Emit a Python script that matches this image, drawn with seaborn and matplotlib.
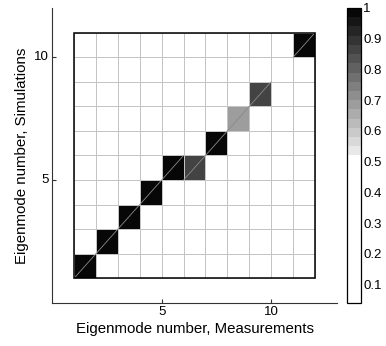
import numpy as np
import pandas as pd
import matplotlib
matplotlib.use("Agg")
import matplotlib.pyplot as plt
from matplotlib.colors import ListedColormap
from matplotlib.patches import Rectangle
import seaborn as sns

# MAC matrix: rows = simulation modes 1..10, columns = measured modes 1..11
measurements = list(range(1, 12))
simulations = list(range(1, 11))
mac_values = [
    # col:1    2     3     4     5     6     7     8     9     10    11
    [1.00, 0.05, 0.05, 0.05, 0.05, 0.05, 0.05, 0.05, 0.05, 0.05, 0.05],  # sim 1
    [0.05, 1.00, 0.05, 0.05, 0.05, 0.05, 0.05, 0.05, 0.05, 0.05, 0.05],  # sim 2
    [0.05, 0.05, 1.00, 0.05, 0.05, 0.05, 0.05, 0.05, 0.05, 0.05, 0.05],  # sim 3
    [0.05, 0.05, 0.05, 1.00, 0.05, 0.05, 0.05, 0.05, 0.05, 0.05, 0.05],  # sim 4
    [0.05, 0.05, 0.05, 0.05, 1.00, 0.85, 0.05, 0.05, 0.05, 0.05, 0.05],  # sim 5
    [0.05, 0.05, 0.05, 0.05, 0.05, 0.05, 1.00, 0.05, 0.05, 0.05, 0.05],  # sim 6
    [0.05, 0.05, 0.05, 0.05, 0.05, 0.05, 0.05, 0.69, 0.05, 0.05, 0.05],  # sim 7
    [0.05, 0.05, 0.05, 0.05, 0.05, 0.05, 0.05, 0.05, 0.85, 0.05, 0.05],  # sim 8
    [0.05, 0.05, 0.05, 0.05, 0.05, 0.05, 0.05, 0.05, 0.05, 0.05, 0.05],  # sim 9
    [0.05, 0.05, 0.05, 0.05, 0.05, 0.05, 0.05, 0.05, 0.05, 0.05, 1.00],  # sim 10
]
tick_labels = ["5", "10"]
tick_values = [5, 10]
cbar_ticks = [0.1, 0.2, 0.3, 0.4, 0.5, 0.6, 0.7, 0.8, 0.9, 1.0]
cbar_labels = ["0.1", "0.2", "0.3", "0.4", "0.5", "0.6", "0.7", "0.8", "0.9", "1"]

df = pd.DataFrame(mac_values, index=simulations, columns=measurements)

# colormap: white below 0.5, grey ramp to black above
vmin, vmax = 0.04, 1.0
n_levels = 32
centers = vmin + (np.arange(n_levels) + 0.5) * (vmax - vmin) / n_levels
cols = []
for c in centers:
    if c < 0.52:
        cols.append((1, 1, 1))
    else:
        g = (1.0 - c) / 0.48 * 0.94
        cols.append((g, g, g))
cmap = ListedColormap(cols)

sns.set_style("white")
plt.rcParams['font.family'] = ['Liberation Sans', 'DejaVu Sans']
plt.rcParams['text.color'] = 'black'
plt.rcParams['axes.labelcolor'] = 'black'
plt.rcParams['xtick.color'] = 'black'
plt.rcParams['ytick.color'] = 'black'

fig = plt.figure(figsize=(3.86, 3.46), dpi=100)
ax = fig.add_axes([52 / 386, 1 - 303 / 346, (337 - 52) / 386, (303 - 8) / 346])
cax = fig.add_axes([347 / 386, 1 - 303 / 346, 14 / 386, (303 - 8) / 346])

sns.heatmap(df, ax=ax, cmap=cmap, vmin=vmin, vmax=vmax, cbar_ax=cax,
            linewidths=0.6, linecolor="#c4c4c4", square=False)

nrows, ncols = df.shape
ax.set_xlim(-1, ncols + 1)
ax.set_ylim(-1, nrows + 1)

# diagonal hairline in each highlighted cell
for r in range(nrows):
    for c in range(ncols):
        if df.values[r, c] > 0.5:
            ax.plot([c, c + 1], [r, r + 1], color="#8a8a8a", lw=0.6, zorder=3)

# black border around matrix
ax.add_patch(Rectangle((0, 0), ncols, nrows, fill=False, edgecolor="black", lw=1.1, zorder=4))

ax.set_xticks([v - 1 for v in tick_values])
ax.set_xticklabels(tick_labels, rotation=0)
ax.set_yticks([v - 1 for v in tick_values])
ax.set_yticklabels(tick_labels, rotation=0)
ax.tick_params(axis="both", direction="in", length=3, width=0.8, color="#333333",
               labelcolor="black", labelsize=9.5, pad=2, bottom=True, left=True)

for s in ["top", "right"]:
    ax.spines[s].set_visible(False)
for s in ["left", "bottom"]:
    ax.spines[s].set_visible(True)
    ax.spines[s].set_color("#333333")
    ax.spines[s].set_linewidth(0.8)

ax.set_xlabel("Eigenmode number, Measurements", fontsize=10.8, labelpad=3, color="black")
ax.set_ylabel("Eigenmode number, Simulations", fontsize=10.8, labelpad=4, color="black")

cbar = ax.collections[0].colorbar
cbar.set_ticks(cbar_ticks)
cbar.set_ticklabels(cbar_labels)
cax.tick_params(direction="in", length=2.5, width=0.6, labelsize=9.5, pad=1.5,
                labelcolor="black", color="#333333",
                left=True, right=True, labelleft=False, labelright=True)
cbar.outline.set_visible(True)
cbar.outline.set_edgecolor("black")
cbar.outline.set_linewidth(0.9)

fig.savefig("out.png", dpi=100)
